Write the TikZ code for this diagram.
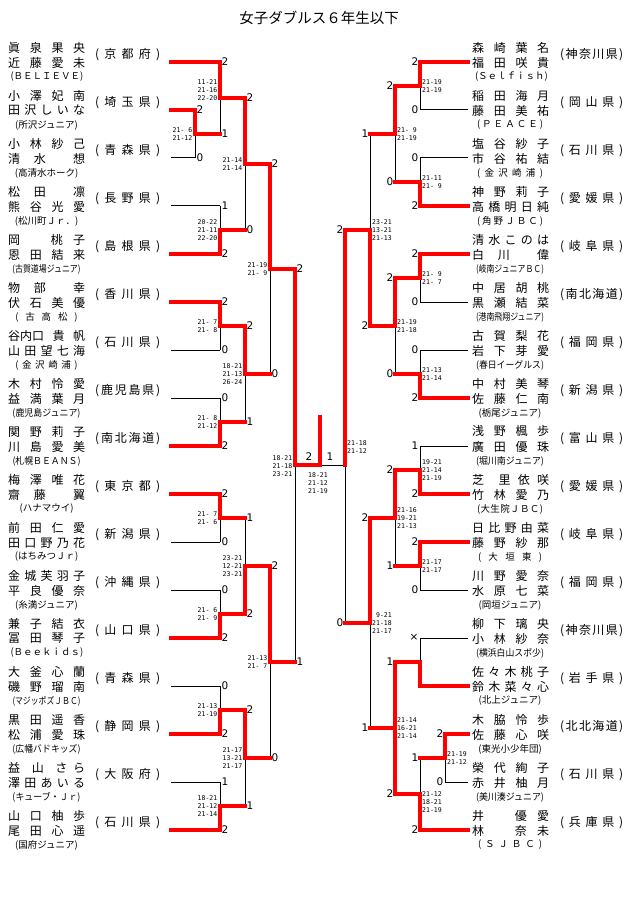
\documentclass[tikz,border=0pt]{standalone}
\usepackage{fontspec}
\usepackage{graphicx}
\newfontfamily\jp{Noto Sans CJK JP}
\newfontfamily\mono{DejaVu Sans Mono}
\newfontfamily\dv{DejaVu Sans}
\definecolor{wred}{RGB}{255,0,0}
\pgfdeclarelayer{bgw}\pgfdeclarelayer{bg}\pgfsetlayers{bgw,bg,main}
\makeatletter
\def\dis@a#1{\ifx\relax#1\else\hfill#1\expandafter\dis@a\fi}
\def\dis@b#1{#1\dis@a}
\newcommand\dis[1]{\dis@b#1\relax}
\makeatother
\newsavebox\tmbox
\newcommand\tm[1]{\sbox\tmbox{#1}\ifdim\wd\tmbox>68pt\resizebox{68pt}{\height}{\usebox\tmbox}\else\usebox\tmbox\fi}
% entries
\newcommand\Lent[6]{%
 \node[nm] (L#1a) at (8,#2-14.5) {\hbox to 77pt{#3}};
 \node[nm] (L#1b) at (8,#2+0.5) {\hbox to 77pt{#4}};
 \node[tmn] (L#1t) at (46.5,#2+15) {#5};
 \node[nm] (L#1p) at (95,#2-7) {\hbox to 65pt{\dis{#6}}};}
\newcommand\Rent[6]{%
 \node[nm] (R#1a) at (472,#2-14.5) {\hbox to 77pt{#3}};
 \node[nm] (R#1b) at (472,#2+0.5) {\hbox to 77pt{#4}};
 \node[tmn] (R#1t) at (510,#2+15) {#5};
 \node[nm] (R#1p) at (560,#2-7) {\hbox to 63pt{\dis{#6}}};}
% numbers and scores
\newcommand\Ln[3]{\node[num,anchor=west] (nl#1-#2) at (#1+1.5,#2-0.5) {#3};}
\newcommand\Rn[3]{\node[num,anchor=east] (nr#1-#2) at (#1-1.5,#2-0.5) {#3};}
\newcommand\Ls[3]{\node[sc,anchor=east] (sl#1-#2) at (#1-2.5,#2) {#3};}
\newcommand\Rs[3]{\node[sc,anchor=west] (sr#1-#2) at (#1+2,#2) {#3};}
% leaves
\newcommand\Llb[2]{\begin{pgfonlayer}{bg}\draw[bl] (171,#1)--(#2,#1);\end{pgfonlayer}}
\newcommand\Llr[2]{\draw[rd] (171,#1)--(#2,#1);}
\newcommand\Rlb[2]{\begin{pgfonlayer}{bg}\draw[bl] (468,#1)--(#2,#1);\end{pgfonlayer}}
\newcommand\Rlr[2]{\draw[rd] (468,#1)--(#2,#1);}
% matches
\newcommand\LM[5]{\begin{pgfonlayer}{bg}\draw[bl] (#1,#2)--(#1,#3);\end{pgfonlayer}\draw[rd] (#1,#4)--(#1,#5)--(#1+25,#5);}
\newcommand\RM[5]{\begin{pgfonlayer}{bg}\draw[bl] (#1,#2)--(#1,#3);\end{pgfonlayer}\draw[rd] (#1,#4)--(#1,#5)--(#1-25,#5);}
\begin{document}
\begin{tikzpicture}[x=1pt,y=-1pt,
 nm/.style={font=\jp\fontsize{12}{12}\selectfont,inner sep=0pt,anchor=west},
 tmn/.style={font=\jp\fontsize{9.5}{10}\selectfont,inner sep=0pt},
 sc/.style={font=\mono\fontsize{6.5}{8.2}\selectfont,inner sep=0pt,align=right},
 num/.style={font=\dv\fontsize{10.5}{11}\selectfont,inner sep=0pt},
 bl/.style={draw=black,line width=1pt},
 rd/.style={draw=wred,line width=3.3pt,line cap=rect}]
\begin{pgfonlayer}{bgw}
\fill[white] (0,0) rectangle (640,909);
\end{pgfonlayer}
\useasboundingbox (0,0) rectangle (640,909);
\node[font=\jp\fontsize{14.5}{15}\selectfont,inner sep=0pt] (title) at (319,18) {女子ダブルス６年生以下};

% ---------------- left entries ----------------
\Lent{1}{62}{\dis{眞泉果央}}{\dis{近藤愛未}}{\hbox to 72pt{\dis{(ＢＥＬＩＥＶＥ)}}}{(京都府)}
\Lent{2}{110}{\dis{小澤妃南}}{\dis{田沢しいな}}{\tm{(所沢ジュニア)}}{(埼玉県)}
\Lent{3}{158}{\dis{小林紗己}}{清\hfill 水\hfill\hfill 想}{\tm{(高清水ホーク)}}{(青森県)}
\Lent{4}{206}{松\hfill 田\hfill\hfill 凛}{\dis{熊谷光愛}}{\tm{(松川町Ｊｒ．)}}{(長野県)}
\Lent{5}{254}{岡\hfill\hfill\hfill 桃\hfill 子}{\dis{恩田結来}}{\tm{(古賀道場ジュニア)}}{(島根県)}
\Lent{6}{302}{物\hfill 部\hfill\hfill 幸}{\dis{伏石美優}}{\hbox to 62pt{\dis{(古高松)}}}{(香川県)}
\Lent{7}{350}{谷内口\hfill 貴\hfill 帆}{\dis{山田望七海}}{\hbox to 62pt{\dis{(金沢崎浦)}}}{(石川県)}
\Lent{8}{398}{\dis{木村怜愛}}{\dis{益満葉月}}{\tm{(鹿児島ジュニア)}}{(鹿児島県)}
\Lent{9}{446}{\dis{関野莉子}}{\dis{川島愛美}}{\tm{(札幌ＢＥＡＮＳ)}}{(南北海道)}
\Lent{10}{494}{\dis{梅澤唯花}}{齋\hfill 藤\hfill\hfill 翼}{\tm{(ハナマウイ)}}{(東京都)}
\Lent{11}{542}{\dis{前田仁愛}}{\dis{田口野乃花}}{\tm{(はちみつＪｒ)}}{(新潟県)}
\Lent{12}{590}{\dis{金城芙羽子}}{\dis{平良優奈}}{\tm{(糸満ジュニア)}}{(沖縄県)}
\Lent{13}{638}{\dis{兼子結衣}}{\dis{冨田琴子}}{\hbox to 72pt{\dis{(Ｂｅｅｋｉｄｓ)}}}{(山口県)}
\Lent{14}{686}{\dis{大釜心蘭}}{\dis{磯野瑠南}}{\tm{(マジッポズＪＢＣ)}}{(青森県)}
\Lent{15}{734}{\dis{黒田遥香}}{\dis{松浦愛珠}}{\tm{(広幡バドキッズ)}}{(静岡県)}
\Lent{16}{782}{益\hfill\hfill 山\hfill\hfill さ\hfill ら}{\dis{澤田あいる}}{\tm{(キューブ・Ｊｒ)}}{(大阪府)}
\Lent{17}{830}{\dis{山口柚歩}}{\dis{尾田心遥}}{\tm{(国府ジュニア)}}{(石川県)}

% ---------------- right entries ----------------
\Rent{1}{62}{\dis{森崎葉名}}{\dis{福田咲貴}}{\hbox to 70pt{\dis{(Ｓｅｌｆｉｓｈ)}}}{(神奈川県)}
\Rent{2}{110}{\dis{稲田海月}}{\dis{藤田美祐}}{\hbox to 66pt{\dis{(ＰＥＡＣＥ)}}}{(岡山県)}
\Rent{3}{158}{\dis{塩谷紗子}}{\dis{市谷祐結}}{\hbox to 66pt{\dis{(金沢崎浦)}}}{(石川県)}
\Rent{4}{206}{\dis{神野莉子}}{\dis{高橋明日純}}{\hbox to 66pt{\dis{(角野ＪＢＣ)}}}{(愛媛県)}
\Rent{5}{254}{\dis{清水このは}}{白\hfill 川\hfill\hfill 偉}{\tm{(岐南ジュニアＢＣ)}}{(岐阜県)}
\Rent{6}{302}{\dis{中居胡桃}}{\dis{黒瀬結菜}}{\tm{(港南飛翔ジュニア)}}{(南北海道)}
\Rent{7}{350}{\dis{古賀梨花}}{\dis{岩下芽愛}}{\tm{(春日イーグルス)}}{(福岡県)}
\Rent{8}{398}{\dis{中村美琴}}{\dis{佐藤仁南}}{\tm{(栃尾ジュニア)}}{(新潟県)}
\Rent{9}{446}{\dis{浅野楓歩}}{\dis{廣田優珠}}{\tm{(堀川南ジュニア)}}{(富山県)}
\Rent{10}{494}{芝\hfill\hfill 里\hfill 依\hfill 咲}{\dis{竹林愛乃}}{\hbox to 66pt{\dis{(大生院ＪＢＣ)}}}{(愛媛県)}
\Rent{11}{542}{\dis{日比野由菜}}{\dis{藤野紗那}}{\hbox to 64pt{\dis{(大垣東)}}}{(岐阜県)}
\Rent{12}{590}{\dis{川野愛奈}}{\dis{水原七菜}}{\tm{(岡垣ジュニア)}}{(福岡県)}
\Rent{13}{638}{\dis{柳下璃央}}{\dis{小林紗奈}}{\tm{(横浜白山スポ少)}}{(神奈川県)}
\Rent{14}{686}{\dis{佐々木桃子}}{\dis{鈴木菜々心}}{\tm{(北上ジュニア)}}{(岩手県)}
\Rent{15}{734}{\dis{木脇怜歩}}{\dis{佐藤心咲}}{\tm{(東光小少年団)}}{(北北海道)}
\Rent{16}{782}{\dis{榮代絢子}}{\dis{赤井柚月}}{\tm{(美川湊ジュニア)}}{(石川県)}
\Rent{17}{830}{井\hfill\hfill\hfill 優\hfill 愛}{林\hfill\hfill\hfill 奈\hfill 未}{\hbox to 64pt{\dis{(ＳＪＢＣ)}}}{(兵庫県)}

% ---------------- left bracket ----------------
\Llr{62}{220}\Llr{110}{195}\Llb{158}{195}\Llb{206}{220}\Llr{254}{220}
\Llr{302}{220}\Llb{350}{220}\Llb{398}{220}\Llr{446}{220}
\Llr{494}{220}\Llb{542}{220}\Llb{590}{220}\Llr{638}{220}
\Llb{686}{220}\Llr{734}{220}\Llb{782}{220}\Llr{830}{220}
\LM{195}{110}{158}{110}{134}
\LM{220}{62}{134}{62}{98}
\LM{220}{206}{254}{254}{230}
\LM{245}{98}{230}{98}{164}
\LM{220}{302}{350}{302}{326}
\LM{220}{398}{446}{446}{422}
\LM{245}{326}{422}{326}{374}
\LM{270}{164}{374}{164}{269}
\LM{220}{494}{542}{494}{518}
\LM{220}{590}{638}{638}{614}
\LM{245}{518}{614}{614}{566}
\LM{220}{686}{734}{734}{710}
\LM{220}{782}{830}{830}{806}
\LM{245}{710}{806}{710}{758}
\LM{270}{566}{758}{566}{662}
% semifinals and final
\begin{pgfonlayer}{bg}
\draw[bl] (295,269)--(295,662);
\draw[bl] (345,230)--(345,623);
\draw[bl] (295,465)--(345,465);
\end{pgfonlayer}
\coordinate (champ) at (320,417);
\draw[rd] (295,269)--(295,465)--(320,465)--(champ);
\draw[rd] (345,230)--(345,465);

% ---------------- right bracket ----------------
\Rlr{62}{420}\Rlb{110}{420}\Rlb{158}{420}\Rlr{206}{420}
\Rlr{254}{420}\Rlb{302}{420}\Rlb{350}{420}\Rlr{398}{420}
\Rlb{446}{420}\Rlr{494}{420}\Rlr{542}{420}\Rlb{590}{420}
\Rlb{638}{420}\Rlr{686}{420}\Rlr{734}{445}\Rlb{782}{445}\Rlr{830}{420}
\RM{420}{62}{110}{62}{86}
\RM{420}{158}{206}{206}{182}
\RM{395}{86}{182}{86}{134}
\RM{420}{254}{302}{254}{278}
\RM{420}{350}{398}{398}{374}
\RM{395}{278}{374}{278}{326}
\RM{370}{134}{326}{326}{230}
\RM{420}{446}{494}{494}{470}
\RM{420}{542}{590}{542}{566}
\RM{395}{470}{566}{470}{518}
\RM{420}{638}{686}{686}{662}
\RM{445}{734}{782}{734}{758}
\RM{420}{758}{830}{830}{794}
\RM{395}{662}{794}{794}{728}
\draw[rd] (395,662)--(395,728);
\RM{370}{518}{728}{518}{623}

% ---------------- left numbers ----------------
\Ln{220}{62}{2}\Ln{195}{110}{2}\Ln{195}{158}{0}\Ln{220}{134}{1}
\Ln{220}{206}{1}\Ln{220}{254}{2}\Ln{245}{98}{2}\Ln{245}{230}{0}\Ln{270}{164}{2}
\Ln{220}{302}{2}\Ln{220}{350}{0}\Ln{220}{398}{0}\Ln{220}{446}{2}
\Ln{245}{326}{2}\Ln{245}{422}{1}\Ln{270}{374}{0}\Ln{295}{269}{2}
\Ln{220}{494}{2}\Ln{220}{542}{0}\Ln{220}{590}{0}\Ln{220}{638}{2}
\Ln{245}{518}{1}\Ln{245}{614}{2}\Ln{270}{566}{2}
\Ln{220}{686}{0}\Ln{220}{734}{2}\Ln{220}{782}{1}\Ln{220}{830}{2}
\Ln{245}{710}{2}\Ln{245}{806}{1}\Ln{270}{758}{0}\Ln{295}{662}{1}
\node[num] (fl) at (309,457) {2};
\node[num] (fr) at (330,457) {1};

% ---------------- right numbers ----------------
\Rn{420}{62}{2}\Rn{420}{110}{0}\Rn{420}{158}{0}\Rn{420}{206}{2}
\Rn{395}{86}{2}\Rn{395}{182}{0}\Rn{370}{134}{1}
\Rn{420}{254}{2}\Rn{420}{302}{0}\Rn{420}{350}{0}\Rn{420}{398}{2}
\Rn{395}{278}{2}\Rn{395}{374}{0}\Rn{370}{326}{2}\Rn{345}{230}{2}
\Rn{420}{446}{1}\Rn{420}{494}{2}\Rn{420}{542}{2}\Rn{420}{590}{0}
\Rn{395}{470}{2}\Rn{395}{566}{1}\Rn{370}{518}{2}
\Rn{420}{638}{×}\Rn{445}{734}{2}\Rn{445}{782}{0}\Rn{420}{758}{1}\Rn{420}{830}{2}
\Rn{395}{662}{1}\Rn{395}{794}{2}\Rn{370}{728}{1}\Rn{345}{623}{0}

% ---------------- left scores ----------------
\Ls{195}{134}{21-~6\\21-12}
\Ls{220}{90}{11-21\\21-16\\22-20}
\Ls{220}{230}{20-22\\21-11\\22-20}
\Ls{245}{164}{21-14\\21-14}
\Ls{220}{326}{21-~7\\21-~8}
\Ls{220}{422}{21-~8\\21-12}
\Ls{245}{374}{18-21\\21-13\\26-24}
\Ls{270}{269}{21-19\\21-~9}
\Ls{220}{518}{21-~7\\21-~6}
\Ls{220}{614}{21-~6\\21-~9}
\Ls{245}{566}{23-21\\12-21\\23-21}
\Ls{220}{710}{21-13\\21-19}
\Ls{220}{806}{18-21\\21-12\\21-14}
\Ls{245}{758}{21-17\\13-21\\21-17}
\Ls{270}{662}{21-13\\21-~7}
\Ls{295}{466}{18-21\\21-18\\23-21}
\node[sc,align=center] (sfinal) at (318,483) {18-21\\21-12\\21-19};

% ---------------- right scores ----------------
\Rs{420}{86}{21-19\\21-19}
\Rs{420}{182}{21-11\\21-~9}
\Rs{395}{134}{21-~9\\21-19}
\Rs{420}{278}{21-~9\\21-~7}
\Rs{420}{374}{21-13\\21-14}
\Rs{395}{326}{21-19\\21-18}
\Rs{370}{230}{23-21\\13-21\\21-13}
\Rs{420}{470}{19-21\\21-14\\21-19}
\Rs{420}{566}{21-17\\21-17}
\Rs{395}{518}{21-16\\19-21\\21-13}
\Rs{445}{758}{21-19\\21-12}
\Rs{420}{802}{21-12\\18-21\\21-19}
\Rs{395}{728}{21-14\\16-21\\21-14}
\Rs{370}{623}{9-21\\21-18\\21-17}
\Rs{345}{447}{21-18\\21-12}
\end{tikzpicture}
\end{document}
